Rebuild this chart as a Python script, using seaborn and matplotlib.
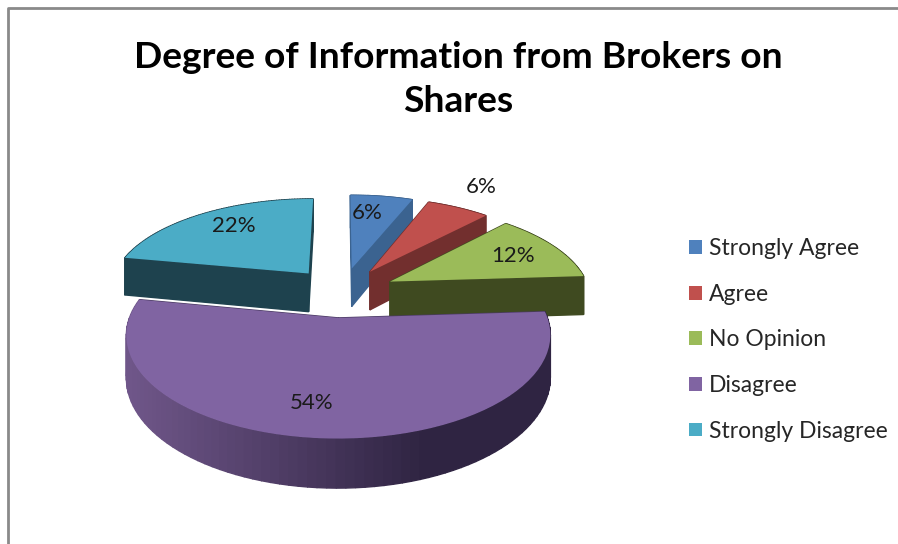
import numpy as np
import seaborn as sns
from matplotlib import pyplot as plt
from matplotlib.colors import to_rgb
from matplotlib.lines import Line2D
from matplotlib.transforms import Transform

title = "Degree of Information from Brokers on\nShares"
categories = ["Strongly Agree", "Agree", "No Opinion", "Disagree", "Strongly Disagree"]
values = [6, 6, 12, 54, 22]
top_colors = ["#4f81bd", "#c0504d", "#9bbb59", "#8064a2", "#4bacc6"]
side_colors = ["#3b6390", "#722f2e", "#3f4a20", "#4a3a62", "#1e424e"]
label_pos = [(367, 213), (481, 187), (513, 256), (312, 403), (234, 226)]

# projection of the flat pie onto the picture (pixels)
CX, CY = 342, 292
SCALE_X, SCALE_Y = 200, 92
PERSP = 0.16
DEPTH = 39.5
EXPLODE = 0.27


def project(x, y):
    w = 1 + PERSP * y
    return CX + SCALE_X * x / w, CY - SCALE_Y * y / w


class PieProjection(Transform):
    input_dims = 2
    output_dims = 2

    def transform_non_affine(self, values):
        values = np.asarray(values)
        px, py = project(values[:, 0], values[:, 1])
        return np.column_stack([px, py])


def depth_at(y):
    return DEPTH / (1 + PERSP * y)


def mix(c1, c2, t):
    c1, c2 = np.array(to_rgb(c1)), np.array(to_rgb(c2))
    return tuple(c1 + (c2 - c1) * t)


def draw_quad(ax, x0, y0, x1, y1, color, zorder):
    px0, py0 = project(x0, y0)
    px1, py1 = project(x1, y1)
    ax.fill([px0, px1, px1, px0],
            [py0, py1, py1 + depth_at(y1), py0 + depth_at(y0)],
            color=color, lw=1, zorder=zorder)


sns.set_theme(style="white")
plt.rcParams['font.family'] = ['Lato', 'DejaVu Sans']

fig = plt.figure(figsize=(8.98, 5.44), dpi=100)
ax = fig.add_axes([0, 0, 1, 1])

wedges, _ = ax.pie(values, explode=[EXPLODE] * len(values), colors=top_colors,
                   startangle=90, counterclock=False, wedgeprops={"linewidth": 0})
ax.set_aspect("auto")
ax.set_xlim(0, 898)
ax.set_ylim(544, 0)
ax.axis("off")

# back slices first, the big front slice last
draw_order = [0, 1, 2, 4, 3]
for rank, idx in enumerate(draw_order):
    wedge = wedges[idx]
    base = 2 * rank + 2
    cx, cy = wedge.center
    angles = np.radians(np.linspace(wedge.theta1, wedge.theta2, 90))
    xs = cx + wedge.r * np.cos(angles)
    ys = cy + wedge.r * np.sin(angles)

    draw_quad(ax, cx, cy, xs[0], ys[0], side_colors[idx], base)
    draw_quad(ax, cx, cy, xs[-1], ys[-1], side_colors[idx], base)
    for j in range(len(xs) - 1):
        color = side_colors[idx]
        if categories[idx] == "Disagree":
            t = np.clip((project(xs[j], ys[j])[0] - 130) / 290, 0, 1)
            color = mix("#6f5689", "#2f2442", t)
        draw_quad(ax, xs[j], ys[j], xs[j + 1], ys[j + 1], color, base)

    wedge.set_transform(PieProjection() + ax.transData)
    wedge.set_zorder(base + 1)

for value, (lx, ly) in zip(values, label_pos):
    ax.text(lx, ly, f"{value}%", fontsize=16, color="#1a1a1a",
            ha="center", va="center", zorder=30)

for i, line in enumerate(title.split("\n")):
    ax.text(458, 57 + 45 * i, line, fontsize=26.7, fontweight="bold", color="black",
            ha="center", va="center", zorder=30)

fig.add_artist(Line2D([7.5 / 898, 7.5 / 898, 1], [0, 1 - 8 / 544, 1 - 8 / 544],
                      color="#8a8a8a", lw=2))

ax.legend(wedges, categories, loc="center left", bbox_to_anchor=(689 / 898, 1 - 340 / 544),
          frameon=False, fontsize=16.5, labelspacing=1.07, handlelength=0.55, handleheight=0.55,
          handletextpad=0.32, borderpad=0, borderaxespad=0, labelcolor="#262626")

fig.savefig("out.png", dpi=100)
